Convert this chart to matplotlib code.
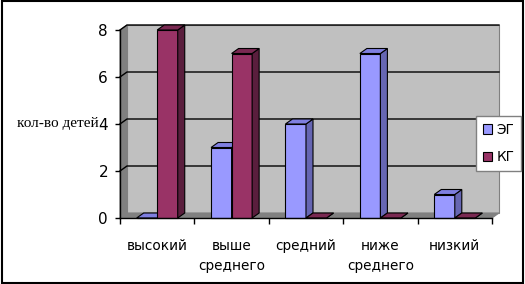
import numpy as np
import matplotlib.pyplot as plt
from matplotlib.patches import Polygon, Rectangle

categories = ['высокий', 'выше\nсреднего', 'средний', 'ниже\nсреднего', 'низкий']
eg = [0, 3, 4, 7, 1]
kg = [8, 7, 0, 0, 0]
series_names = ['ЭГ', 'КГ']
y_ticks = [0, 2, 4, 6, 8]

# colours: front, side, top
eg_cols = ('#9999FF', '#6666B3', '#7F7FE0')
kg_cols = ('#993366', '#5A1E3D', '#7A2952')

W, H = 525, 284
fig = plt.figure(figsize=(W / 100, H / 100), dpi=100)
ax = fig.add_axes([120 / W, (H - 218) / H, 372 / W, 188 / H])
ax.set_xlim(-0.5, len(categories) - 0.5)
ax.set_ylim(0, 8)

# depth offset in data units (about 7 px right, 5 px up)
dx = 7 / 74.4
dy = 5 / 23.5
x0, x1 = -0.5, len(categories) - 0.5
top = y_ticks[-1]

def poly(pts, fc, ec='none', z=1, lw=0.8):
    ax.add_patch(Polygon(pts, closed=True, facecolor=fc, edgecolor=ec,
                         linewidth=lw, zorder=z, clip_on=False))

# walls and floor
poly([(x0 + dx, dy), (x1 + dx, dy), (x1 + dx, top + dy), (x0 + dx, top + dy)],
     '#C0C0C0', '#808080', 0.5)
poly([(x0, 0), (x0 + dx, dy), (x0 + dx, top + dy), (x0, top)], '#808080', '#808080', 0.5)
poly([(x0, 0), (x1, 0), (x1 + dx, dy), (x0 + dx, dy)], '#808080', '#808080', 0.5)

for v in y_ticks[1:]:
    ax.plot([x0, x0 + dx, x1 + dx], [v, v + dy, v + dy], color='black', lw=1,
            zorder=0.6, clip_on=False)

bw = 0.276
xs = np.arange(len(categories))

def bar3d(xl, v, cols):
    f, s, t = cols
    poly([(xl, 0), (xl + bw, 0), (xl + bw, v), (xl, v)], f, 'black', 2)
    poly([(xl + bw, 0), (xl + bw + dx, dy), (xl + bw + dx, v + dy), (xl + bw, v)], s, 'black', 2)
    poly([(xl, v), (xl + dx, v + dy), (xl + bw + dx, v + dy), (xl + bw, v)], t, 'black', 2)

for i in range(len(categories)):
    bar3d(xs[i] - bw, eg[i], eg_cols)
    bar3d(xs[i], kg[i], kg_cols)

# axes
for sp in ['top', 'right']:
    ax.spines[sp].set_visible(False)
ax.spines['left'].set_linewidth(1)
ax.spines['bottom'].set_linewidth(1)
ax.spines['bottom'].set_zorder(3)
ax.set_yticks(y_ticks)
ax.tick_params(axis='y', length=3.6, width=1, pad=5, labelsize=11)
ax.set_xticks(xs)
ax.set_xticklabels(categories, fontsize=9.8, linespacing=1.6)
ax.tick_params(axis='x', which='major', length=0, pad=15)
ax.set_xticks(np.arange(len(categories) + 1) - 0.5, minor=True)
ax.tick_params(axis='x', which='minor', length=4, width=1)

fig.text(58 / W, 1 - 123 / H, 'кол-во детей', family='Liberation Serif',
         fontsize=11, ha='center', va='center')

handles = [Rectangle((0, 0), 1, 1, facecolor=eg_cols[0], edgecolor='black', lw=0.8),
           Rectangle((0, 0), 1, 1, facecolor=kg_cols[0], edgecolor='black', lw=0.8)]
leg = fig.legend(handles, series_names, loc='upper left',
                 bbox_to_anchor=(476 / W, 1 - 116 / H), fontsize=9.8,
                 handlelength=0.7, handleheight=0.7, handletextpad=0.3,
                 labelspacing=1.0, borderpad=0.5, borderaxespad=0,
                 fancybox=False, framealpha=1, edgecolor='#808080')
leg.get_frame().set_linewidth(1)

fig.patches.append(Rectangle((0.003, 0.005), 0.994, 0.99, transform=fig.transFigure,
                             fill=False, edgecolor='black', linewidth=1.5))

plt.savefig('out.png', dpi=100)
